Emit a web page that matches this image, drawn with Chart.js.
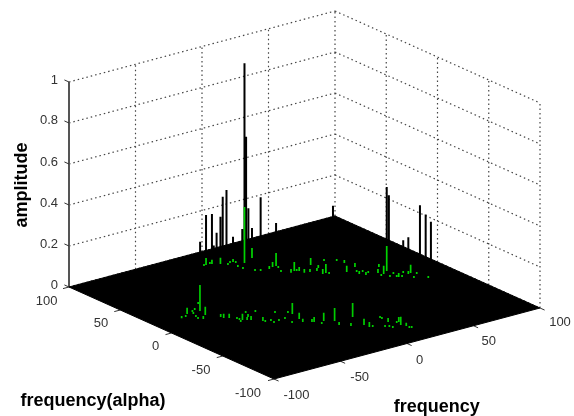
<!DOCTYPE html>
<html>
<head>
<meta charset="utf-8">
<script src="https://cdn.jsdelivr.net/npm/chart.js@4"></script>
<style>
  html, body { margin: 0; padding: 0; background: #ffffff; }
  canvas { display: block; }
</style>
</head>
<body>
<canvas id="spectrum" width="574" height="416"></canvas>
<script>
/* axis ticks */
const freqTicks = [-100, -50, 0, 50, 100];
const alphaTicks = [100, 50, 0, -50, -100];
const ampTicks = [0, 0.2, 0.4, 0.6, 0.8, 1];

/* ridge with positive alpha, lower part of the spikes (green) */
const upperFreq = [-14.3, -12.3, -9.4, -8.4, -4.4, -2, 1.1, 3.6, 3.8, 0.6, 0.9, 7.9, 16.7, 4.5, 7.1, 13.3, 17, 19.7, 18.6, 15.7, 19.7, 23, 24.1, 25.3, 26, 29.4, 37, 33.7, 37.5, 33.3, 47.5, 35.8, 36.3, 53.5, 55, 46.7, 55.8, 51.4, 50.5, 54.2, 52.6, 55.8, 60.4, 67.1, 58.8, 62, 66.6, 61.8, 66.6, 65, 65.9, 67.5, 72.3, 73.6, 75.8, 72.1, 77.6, 78.9];
const upperAlpha = [79.5, 80.1, 80.1, 79.4, 76.3, 72.1, 74.1, 74.4, 72, 65.8, 61.2, 68.8, 72.9, 54.1, 52, 51.6, 53.2, 53.3, 49.7, 43.3, 38.7, 39.8, 38.9, 38, 33.9, 32.8, 42, 31.6, 35.2, 25.4, 42.6, 25.6, 23.1, 38, 32.5, 19.4, 23.2, 15.8, 12.1, 13.6, 8.3, 10.2, 6.7, 14.5, 1.4, 3.2, 6.2, -3.2, -0.3, -5.6, -6.4, -7.6, -2.5, -5.8, -5.2, -13.2, -8.8, -18.4];
const upperAmp = [0.01, 0.034, 0.01, 0.02, 0.03, 0.01, 0.01, 0.015, 0.01, 0.01, 0.01, 0.273, 0.049, 0.01, 0.01, 0.015, 0.024, 0.063, 0.01, 0.01, 0.018, 0.044, 0.01, 0.02, 0.018, 0.015, 0.034, 0.015, 0.015, 0.024, 0.01, 0.044, 0.01, 0.01, 0.015, 0.03, 0.02, 0.01, 0.015, 0.01, 0.015, 0.01, 0.02, 0.015, 0.01, 0.04, 0.122, 0.01, 0.01, 0.01, 0.02, 0.01, 0.01, 0.015, 0.04, 0.01, 0.01, 0.01];

/* ridge with negative alpha (green) */
const lowerFreq = [-79.8, -76.5, -72.7, -68.1, -69.7, -64.9, -71.7, -57, -72.8, -63.5, -70.3, -65.2, -60, -59.6, -57, -54.4, -54.3, -55.8, -52.9, -44, -50.7, -47.1, -48.8, -38.4, -44.3, -44.2, -40.5, -41.2, -30.2, -36.7, -31.8, -24.1, -23.1, -32.7, -25.1, -26.5, -22.2, -21.2, -19.7, -15.6, -10.5, -12.6, -8, 2.2, -0.8, -0.4, 1.2, 14.1, 13.9, 7, 13.7, 9, 9.6, 16.7, 18.7, 16.5, 18.1, 17.4, 18.5];
const lowerAlpha = [16.3, 16.6, 20.2, 21, 18, 22.9, 12.9, 29.8, 9.4, 19.6, 7.5, 12.2, 3.9, 1.5, -0.5, -4.7, -7, -10.2, -8.1, 0.3, -9.8, -6, -11.2, -1.9, -16.9, -19.1, -19.8, -23.7, -10.4, -22.7, -22.2, -15.1, -18.1, -30.3, -27.4, -32.7, -36.1, -36.9, -42.4, -39, -43, -50.1, -55.7, -44.1, -59.1, -63.8, -65, -55.4, -57.5, -69.5, -63.8, -71.1, -73.7, -68.3, -67.7, -72.5, -75.8, -79.7, -80.6];
const lowerAmp = [0.011, 0.01, 0.03, 0.01, 0.01, 0.01, 0.01, 0.01, 0.01, 0.127, 0.015, 0.04, 0.015, 0.02, 0.02, 0.01, 0.01, 0.01, 0.03, 0.01, 0.015, 0.015, 0.02, 0.01, 0.02, 0.01, 0.01, 0.01, 0.01, 0.01, 0.01, 0.01, 0.054, 0.01, 0.03, 0.015, 0.015, 0.024, 0.01, 0.04, 0.063, 0.015, 0.015, 0.068, 0.03, 0.024, 0.01, 0.01, 0.01, 0.01, 0.02, 0.01, 0.01, 0.01, 0.024, 0.04, 0.015, 0.01, 0.01];

/* full height of the spikes that rise above the back edge (black) */
const peakFreq = [-15.6, -12.3, -8.4, -9.8, -8.6, -4.4, -6, -4.4, 3.6, 2.3, 7.9, 8.8, 4.9, 16.7, 7.1, 19.7, 51.7, 66.6, 67.6, 72.3, 73.6, 78.1, 79.7, 81.1];
const peakAlpha = [81.6, 80.1, 79.4, 75.8, 74.6, 76.3, 72, 70.4, 74.4, 63.7, 68.8, 68.4, 61.1, 72.9, 52, 53.3, 39.3, 6.2, 5.4, -2.5, -5.8, -11.3, -14.8, -18.1];
const peakAmp = [0.116, 0.244, 0.244, 0.1, 0.163, 0.23, 0.34, 0.374, 0.123, 0.187, 0.975, 0.615, 0.29, 0.146, 0.36, 0.21, 0.27, 0.41, 0.37, 0.16, 0.18, 0.34, 0.3, 0.27];

// fixed 3D view, same as the box in the picture
function project(freq, alpha, amp) {
  return {
    x: 304.5 + 1.33 * freq - 1.025 * alpha,
    y: 297.5 - 0.355 * freq - 0.46 * alpha - 205 * amp
  };
}

const gap = { x: NaN, y: NaN };

function segments(list) {
  const out = [];
  list.forEach(s => {
    out.push(project(s[0], s[1], s[2]), project(s[3], s[4], s[5]), gap);
  });
  return out;
}

function stems(freq, alpha, amp) {
  return segments(freq.map((f, i) => [f, alpha[i], 0, f, alpha[i], amp[i]]));
}

/* back walls */
const gridLines = [];
ampTicks.forEach(z => {
  gridLines.push([-100, 100, z, 100, 100, z]);
  gridLines.push([100, 100, z, 100, -100, z]);
});
freqTicks.forEach(f => gridLines.push([f, 100, 0, f, 100, 1]));
alphaTicks.forEach(a => gridLines.push([100, a, 0, 100, a, 1]));

/* tick marks */
const tickLines = [];
ampTicks.forEach(z => tickLines.push([-100, 100, z, -100, 104.5, z]));
alphaTicks.forEach(a => tickLines.push([-100, a, 0, -104.5, a, 0]));
freqTicks.forEach(f => tickLines.push([f, -100, 0, f, -104.5, 0]));

const floorShape = [
  project(-100, 100, 0), project(100, 100, 0), project(100, -100, 0), project(-100, -100, 0), project(-100, 100, 0)
];

function lineSet(data, color, width, dash) {
  return {
    data: data,
    borderColor: color,
    borderWidth: width,
    borderDash: dash || [],
    pointRadius: 0,
    showLine: true,
    fill: false,
    tension: 0,
    spanGaps: false,
    clip: false
  };
}

const floorSet = lineSet(floorShape, '#000000', 1);
floorSet.fill = 'shape';
floorSet.backgroundColor = '#000000';

const tickColor = '#333333';
const tickFont = '13px "Liberation Sans"';
const titleFont = 'bold 18px "Liberation Sans"';

/* label anchors in view units */
const ampLabels = ['0', '0.2', '0.4', '0.6', '0.8', '1'];
const ampLabelX = 58;
const ampLabelY = [285, 244, 203, 162, 120, 80];
const alphaLabels = ['100', '50', '0', '-50', '-100'];
const alphaLabelX = [46.7, 101, 155.7, 201, 248];
const alphaLabelY = [301, 323, 346, 370, 393];
const freqLabels = ['-100', '-50', '0', '50', '100'];
const freqLabelX = [296.5, 359.7, 419.7, 488.7, 560];
const freqLabelY = [395, 377, 360, 341, 322];

const axisText = {
  id: 'axisText',
  afterDatasetsDraw(chart) {
    const ctx = chart.ctx;
    const sx = chart.scales.x;
    const sy = chart.scales.y;
    ctx.save();
    ctx.textBaseline = 'middle';
    ctx.fillStyle = tickColor;
    ctx.font = tickFont;
    ctx.textAlign = 'right';
    ampLabels.forEach((t, i) => ctx.fillText(t, sx.getPixelForValue(ampLabelX), sy.getPixelForValue(ampLabelY[i])));
    ctx.textAlign = 'center';
    alphaLabels.forEach((t, i) => ctx.fillText(t, sx.getPixelForValue(alphaLabelX[i]), sy.getPixelForValue(alphaLabelY[i])));
    freqLabels.forEach((t, i) => ctx.fillText(t, sx.getPixelForValue(freqLabelX[i]), sy.getPixelForValue(freqLabelY[i])));

    ctx.fillStyle = '#000000';
    ctx.font = titleFont;
    ctx.fillText('frequency(alpha)', sx.getPixelForValue(93), sy.getPixelForValue(401));
    ctx.fillText('frequency', sx.getPixelForValue(436.7), sy.getPixelForValue(407));
    ctx.translate(sx.getPixelForValue(22), sy.getPixelForValue(185));
    ctx.rotate(-Math.PI / 2);
    ctx.fillText('amplitude', 0, 0);
    ctx.restore();
  }
};

// first dataset ends up on top, so this list runs from front to back
new Chart(document.getElementById('spectrum').getContext('2d'), {
  type: 'scatter',
  data: {
    datasets: [
      lineSet(stems(lowerFreq, lowerAlpha, lowerAmp), '#00cc00', 1.7),
      lineSet(stems(upperFreq, upperAlpha, upperAmp), '#00d400', 1.7),
      floorSet,
      lineSet(stems(peakFreq, peakAlpha, peakAmp), '#000000', 2),
      lineSet(segments(tickLines), '#333333', 1),
      lineSet(segments([[-100, 100, 0, -100, 100, 1]]), '#555555', 2),
      lineSet(segments(gridLines), '#444444', 1.2, [1.5, 3])
    ]
  },
  options: {
    responsive: false,
    animation: false,
    layout: { padding: 0 },
    plugins: { legend: { display: false }, tooltip: { enabled: false } },
    scales: {
      x: { type: 'linear', display: false, min: 0, max: 574 },
      y: { type: 'linear', display: false, min: 0, max: 416, reverse: true }
    }
  },
  plugins: [axisText]
});
</script>
</body>
</html>
